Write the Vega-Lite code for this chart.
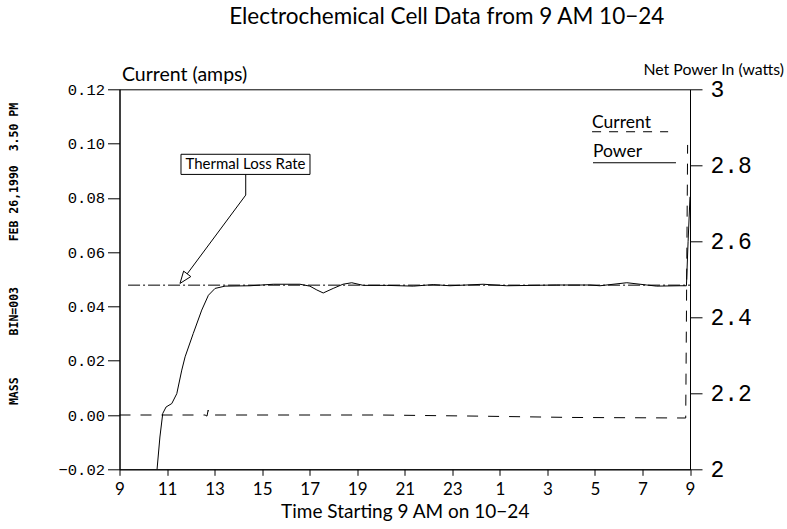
{
  "$schema": "https://vega.github.io/schema/vega-lite/v6.json",
  "autosize": {"type": "none"},
  "padding": {"left": 119.5, "top": 89.3, "right": 97, "bottom": 59.7},
  "width": 570.5,
  "height": 380,
  "background": "white",
  "title": {
    "text": "Electrochemical Cell Data from 9 AM 10\u221224",
    "font": "Lato",
    "fontSize": 22.5,
    "fontWeight": "normal",
    "color": "black",
    "anchor": "middle",
    "dx": 42,
    "offset": 33
  },
  "datasets": {
    "current": [
      {"hours": 9.0, "amps": 0.0},
      {"hours": 12.6, "amps": 0.0},
      {"hours": 12.68, "amps": -0.0004},
      {"hours": 12.73, "amps": 0.0018},
      {"hours": 12.76, "amps": 0.0},
      {"hours": 20.0, "amps": 0.0},
      {"hours": 24.0, "amps": -0.0004},
      {"hours": 28.0, "amps": -0.0009},
      {"hours": 32.82, "amps": -0.0011},
      {"hours": 32.9, "amps": 0.0995}
    ],
    "power": [
      {"hours": 10.58, "watts": 2.0},
      {"hours": 10.70, "watts": 2.085},
      {"hours": 10.82, "watts": 2.147},
      {"hours": 10.96, "watts": 2.164},
      {"hours": 11.20, "watts": 2.173},
      {"hours": 11.41, "watts": 2.199},
      {"hours": 11.62, "watts": 2.261},
      {"hours": 11.76, "watts": 2.296},
      {"hours": 12.10, "watts": 2.357},
      {"hours": 12.46, "watts": 2.419},
      {"hours": 12.74, "watts": 2.458},
      {"hours": 13.02, "watts": 2.476},
      {"hours": 13.44, "watts": 2.482},
      {"hours": 14.49, "watts": 2.483},
      {"hours": 15.47, "watts": 2.487},
      {"hours": 16.59, "watts": 2.487},
      {"hours": 17.01, "watts": 2.482},
      {"hours": 17.30, "watts": 2.472},
      {"hours": 17.57, "watts": 2.464},
      {"hours": 17.99, "watts": 2.476},
      {"hours": 18.40, "watts": 2.487},
      {"hours": 18.77, "watts": 2.491},
      {"hours": 19.26, "watts": 2.484},
      {"hours": 20.24, "watts": 2.484},
      {"hours": 21.36, "watts": 2.482},
      {"hours": 22.20, "watts": 2.486},
      {"hours": 22.90, "watts": 2.483},
      {"hours": 24.30, "watts": 2.487},
      {"hours": 25.29, "watts": 2.483},
      {"hours": 27.39, "watts": 2.485},
      {"hours": 28.79, "watts": 2.485},
      {"hours": 29.21, "watts": 2.483},
      {"hours": 30.34, "watts": 2.491},
      {"hours": 31.18, "watts": 2.485},
      {"hours": 31.60, "watts": 2.482},
      {"hours": 32.58, "watts": 2.483},
      {"hours": 32.85, "watts": 2.483},
      {"hours": 32.92, "watts": 2.6},
      {"hours": 33.0, "watts": 2.717}
    ],
    "thermal": [{"x1": 9.36, "x2": 33.0, "watts": 2.4846}],
    "box": [{"x1": 11.587, "x2": 17.014, "y1": 2.776, "y2": 2.829, "label": "Thermal Loss Rate", "xc": 14.30, "yc": 2.8025}],
    "arrow": [
      {"part": "shaft", "ord": 1, "hours": 14.31, "watts": 2.776},
      {"part": "shaft", "ord": 2, "hours": 14.31, "watts": 2.7216},
      {"part": "shaft", "ord": 3, "hours": 11.848, "watts": 2.5143},
      {"part": "head", "ord": 1, "hours": 11.545, "watts": 2.4891},
      {"part": "head", "ord": 2, "hours": 12.0, "watts": 2.5072},
      {"part": "head", "ord": 3, "hours": 11.697, "watts": 2.5215},
      {"part": "head", "ord": 4, "hours": 11.545, "watts": 2.4891}
    ],
    "legend": [
      {"series": "Current", "x1": 28.88, "x2": 32.08, "ty": 2.9126, "ly": 2.8883},
      {"series": "Power", "x1": 28.92, "x2": 32.41, "ty": 2.8362, "ly": 2.8067}
    ],
    "side": [
      {"text": "MASS", "hours": 4.6, "watts": 2.2054},
      {"text": "BIN=003", "hours": 4.6, "watts": 2.416},
      {"text": "FEB 26,1990\u00a0\u00a03.50 PM", "hours": 4.6, "watts": 2.782}
    ]
  },
  "layer": [
    {
      "data": {"name": "current"},
      "mark": {"type": "line", "color": "black", "strokeWidth": 1, "strokeDash": [11, 10]},
      "encoding": {
        "x": {
          "field": "hours", "type": "quantitative",
          "scale": {"domain": [9, 33], "nice": false, "zero": false},
          "axis": {
            "values": [9, 11, 13, 15, 17, 19, 21, 23, 25, 27, 29, 31, 33],
            "labelExpr": "((datum.value - 1) % 24) + 1",
            "title": "Time Starting 9 AM on 10\u221224",
            "titleFont": "Lato", "titleFontSize": 19, "titleFontWeight": "normal",
            "labelFont": "Lato", "labelFontSize": 17,
            "tickSize": 6, "labelPadding": 6, "titlePadding": 5,
            "labelFlush": false, "labelOverlap": false
          }
        },
        "y": {
          "field": "amps", "type": "quantitative",
          "scale": {"domain": [-0.02, 0.12], "nice": false, "zero": false},
          "axis": {
            "orient": "left",
            "values": [-0.02, 0, 0.02, 0.04, 0.06, 0.08, 0.1, 0.12],
            "format": ".2f",
            "labelFont": "Liberation Mono", "labelFontSize": 15.5,
            "tickSize": 12, "labelPadding": 3,
            "title": "Current (amps)",
            "titleFont": "Lato", "titleFontSize": 19.5, "titleFontWeight": "normal",
            "titleAngle": 0, "titleAlign": "left", "titleBaseline": "alphabetic",
            "titleX": 2, "titleY": -9
          }
        }
      }
    },
    {
      "data": {"name": "power"},
      "mark": {"type": "line", "color": "black", "strokeWidth": 1, "clip": true},
      "encoding": {
        "x": {"field": "hours", "type": "quantitative", "scale": {"domain": [9, 33], "nice": false, "zero": false}},
        "y": {
          "field": "watts", "type": "quantitative",
          "scale": {"domain": [2, 3], "nice": false, "zero": false},
          "axis": {
            "orient": "right",
            "values": [2, 2.2, 2.4, 2.6, 2.8, 3],
            "labelExpr": "format(datum.value, '~g')",
            "labelFont": "Liberation Mono", "labelFontSize": 23,
            "tickSize": 12, "labelPadding": 8,
            "title": "Net Power In (watts)",
            "titleFont": "Lato", "titleFontSize": 15.8, "titleFontWeight": "normal",
            "titleAngle": 0, "titleAlign": "left", "titleBaseline": "alphabetic",
            "titleX": -47, "titleY": -15
          }
        }
      }
    },
    {
      "data": {"name": "thermal"},
      "mark": {"type": "rule", "color": "black", "strokeWidth": 1, "strokeDash": [12, 3, 2, 3]},
      "encoding": {
        "x": {"field": "x1", "type": "quantitative", "scale": {"domain": [9, 33], "nice": false, "zero": false}},
        "x2": {"field": "x2"},
        "y": {"field": "watts", "type": "quantitative", "scale": {"domain": [2, 3], "nice": false, "zero": false}, "axis": null}
      }
    },
    {
      "data": {"name": "box"},
      "mark": {"type": "rect", "fill": "white", "stroke": "black", "strokeWidth": 1},
      "encoding": {
        "x": {"field": "x1", "type": "quantitative", "scale": {"domain": [9, 33], "nice": false, "zero": false}},
        "x2": {"field": "x2"},
        "y": {"field": "y1", "type": "quantitative", "scale": {"domain": [2, 3], "nice": false, "zero": false}, "axis": null},
        "y2": {"field": "y2"}
      }
    },
    {
      "data": {"name": "box"},
      "mark": {"type": "text", "font": "Lato", "fontSize": 15, "color": "black", "align": "center", "baseline": "middle"},
      "encoding": {
        "x": {"field": "xc", "type": "quantitative", "scale": {"domain": [9, 33], "nice": false, "zero": false}},
        "y": {"field": "yc", "type": "quantitative", "scale": {"domain": [2, 3], "nice": false, "zero": false}, "axis": null},
        "text": {"field": "label"}
      }
    },
    {
      "data": {"name": "arrow"},
      "mark": {"type": "line", "color": "black", "strokeWidth": 1},
      "encoding": {
        "x": {"field": "hours", "type": "quantitative", "scale": {"domain": [9, 33], "nice": false, "zero": false}},
        "y": {"field": "watts", "type": "quantitative", "scale": {"domain": [2, 3], "nice": false, "zero": false}, "axis": null},
        "detail": {"field": "part"},
        "order": {"field": "ord"}
      }
    },
    {
      "data": {"name": "legend"},
      "mark": {"type": "text", "font": "Lato", "fontSize": 17.5, "color": "black", "align": "left", "baseline": "middle"},
      "encoding": {
        "x": {"field": "x1", "type": "quantitative", "scale": {"domain": [9, 33], "nice": false, "zero": false}},
        "y": {"field": "ty", "type": "quantitative", "scale": {"domain": [2, 3], "nice": false, "zero": false}, "axis": null},
        "text": {"field": "series"}
      }
    },
    {
      "data": {"name": "legend"},
      "mark": {"type": "rule", "color": "black", "strokeWidth": 1},
      "encoding": {
        "x": {"field": "x1", "type": "quantitative", "scale": {"domain": [9, 33], "nice": false, "zero": false}},
        "x2": {"field": "x2"},
        "y": {"field": "ly", "type": "quantitative", "scale": {"domain": [2, 3], "nice": false, "zero": false}, "axis": null},
        "strokeDash": {"field": "series", "type": "nominal", "scale": {"domain": ["Current", "Power"], "range": [[9, 8], [1, 0]]}, "legend": null}
      }
    },
    {
      "data": {"name": "side"},
      "mark": {"type": "text", "font": "DejaVu Sans Mono", "fontWeight": "bold", "fontSize": 11.5, "color": "black", "angle": 270, "align": "center", "baseline": "middle"},
      "encoding": {
        "x": {"field": "hours", "type": "quantitative", "scale": {"domain": [9, 33], "nice": false, "zero": false}},
        "y": {"field": "watts", "type": "quantitative", "scale": {"domain": [2, 3], "nice": false, "zero": false}, "axis": null},
        "text": {"field": "text"}
      }
    }
  ],
  "resolve": {"scale": {"y": "independent"}},
  "config": {
    "view": {"stroke": "black", "strokeWidth": 1},
    "axis": {
      "grid": false,
      "domainColor": "black", "domainWidth": 1,
      "tickColor": "black", "tickWidth": 1,
      "labelColor": "black", "titleColor": "black"
    }
  }
}
